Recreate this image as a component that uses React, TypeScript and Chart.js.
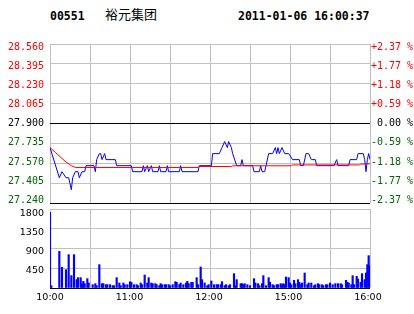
import React, { useEffect, useRef } from "react";
import { Chart, registerables } from "chart.js";

Chart.register(...registerables);

// ---------- data ----------
const stockCode = "00551";
const stockName = "裕元集团";
const quoteTime = "2011-01-06 16:00:37";
const prevClose = 27.9;

const priceTicks = [27.24, 27.405, 27.57, 27.735, 27.9, 28.065, 28.23, 28.395, 28.56];
const pctTickLabels = ["-2.37 %", "-1.77 %", "-1.18 %", "-0.59 %", " 0.00 %", "+0.59 %", "+1.18 %", "+1.77 %", "+2.37 %"];
const volumeTicks = [0, 450, 900, 1350, 1800];
const gridMinutes = [0, 30, 60, 90, 120, 150, 180, 210, 240];
const timeLabelMinutes = [0, 60, 120, 180, 240];
const timeLabels = ["10:00", "11:00", "12:00", "15:00", "16:00"];

// minutes since 10:00 (trading minutes, lunch break removed)
const priceMinutes = [
  0, 7, 9, 12, 14, 15, 16, 17, 19, 21, 22, 24, 26, 27, 33, 34, 35, 37, 38, 39, 41, 42, 49, 50,
  61, 62, 69, 70, 71, 73, 74, 76, 77, 81, 82, 83, 87, 88, 89, 97, 98, 99, 111, 112, 121, 122,
  127, 129, 131, 133, 134, 136, 137, 140, 143, 144, 145, 152, 153, 157, 158, 159, 161, 162,
  164, 167, 169, 170, 171, 172, 174, 176, 179, 182, 187, 188, 190, 192, 194, 196, 199, 200,
  213, 215, 216, 224, 225, 230, 231, 235, 236, 237, 238, 239, 240,
];
const priceValues = [
  27.7, 27.45, 27.5, 27.45, 27.45, 27.4, 27.35, 27.45, 27.5, 27.5, 27.45, 27.5, 27.5, 27.55, 27.55, 27.5, 27.6, 27.65, 27.65, 27.6, 27.65, 27.6, 27.6, 27.55,
  27.55, 27.5, 27.5, 27.55, 27.5, 27.55, 27.5, 27.55, 27.5, 27.5, 27.55, 27.5, 27.5, 27.55, 27.5, 27.5, 27.55, 27.5, 27.5, 27.55, 27.55, 27.65,
  27.65, 27.7, 27.75, 27.7, 27.75, 27.7, 27.65, 27.55, 27.55, 27.6, 27.55, 27.55, 27.5, 27.5, 27.55, 27.5, 27.5, 27.55,
  27.65, 27.65, 27.7, 27.65, 27.7, 27.65, 27.7, 27.65, 27.65, 27.6, 27.6, 27.55, 27.55, 27.65, 27.65, 27.6, 27.6, 27.55,
  27.55, 27.6, 27.55, 27.55, 27.6, 27.6, 27.65, 27.65, 27.6, 27.5, 27.6, 27.65, 27.6,
];

const avgMinutes = [0, 4, 8, 12, 16, 19, 111, 112, 136, 137, 181, 182, 232, 233, 240];
const avgValues = [27.7, 27.66, 27.62, 27.58, 27.55, 27.535, 27.535, 27.543, 27.543, 27.549, 27.549, 27.556, 27.556, 27.563, 27.565];

const volumeMinutes = [
  0, 1, 7, 9, 12, 14, 16, 18, 20, 21, 23, 24, 25, 26, 28, 29, 32, 34, 35, 37, 39, 40, 42, 43, 45, 47, 48,
  50, 52, 53, 55, 56, 58, 60, 61, 63, 65, 66, 68, 69, 71, 73, 74, 76, 77, 79, 80, 82, 83, 84, 86, 87, 89,
  90, 92, 94, 95, 97, 98, 100, 102, 103, 104, 106, 107, 110, 111, 113, 114, 116, 118, 119, 121, 123, 125,
  126, 128, 129, 131, 132, 134, 135, 138, 139, 140, 143, 144, 145, 146, 148, 150, 153, 154, 156, 157, 159,
  160, 162, 164, 165, 167, 168, 170, 171, 173, 174, 175, 176, 177, 179, 180, 181, 183, 184, 186, 187, 188,
  189, 191, 193, 194, 196, 198, 199, 201, 202, 204, 205, 207, 208, 210, 212, 214, 216, 218, 219, 222, 223,
  224, 226, 227, 228, 230, 231, 233, 234, 236, 237, 238, 239, 240,
];
const volumeValues = [
  1725, 50, 836, 471, 418, 760, 281, 760, 190, 236, 236, 99, 152, 99, 213, 114, 76, 99, 53, 532, 99, 99, 76, 76, 76, 53, 53,
  236, 114, 53, 114, 76, 76, 144, 129, 76, 76, 53, 114, 76, 296, 114, 236, 114, 99, 99, 76, 53, 99, 76, 76, 76, 76,
  53, 76, 144, 129, 76, 114, 76, 114, 152, 99, 129, 129, 236, 76, 479, 190, 114, 53, 76, 160, 76, 76,
  76, 76, 144, 53, 76, 53, 76, 327, 53, 190, 99, 99, 76, 99, 76, 53, 213, 114, 99, 53, 99,
  281, 53, 236, 129, 76, 53, 76, 76, 99, 76, 99, 76, 251, 236, 114, 76, 175, 99, 190, 129, 76,
  114, 342, 76, 114, 114, 53, 76, 99, 76, 76, 53, 76, 76, 114, 76, 99, 99, 99, 76, 175, 129,
  114, 76, 281, 76, 266, 205, 129, 327, 190, 342, 532, 737, 509,
];

// ---------- styles ----------
const RED = "#ff0000";
const GREEN = "#006600";
const BLUE = "#0000ff";
const GRID = "#c0c0c0";
const MONO = "'DejaVu Sans Mono', monospace";
const SANS = "'DejaVu Sans', sans-serif";

const priceColor = (v: number) => (v > prevClose + 1e-9 ? RED : v < prevClose - 1e-9 ? GREEN : "#000000");

export default function App() {
  const priceRef = useRef<HTMLCanvasElement | null>(null);
  const volRef = useRef<HTMLCanvasElement | null>(null);

  useEffect(() => {
    const setTicks = (vals: number[]) => (s: any) => {
      s.ticks = vals.map((v) => ({ value: v }));
    };
    const noGrid = { display: false, drawTicks: false };

    const priceChart = new Chart(priceRef.current as HTMLCanvasElement, {
      type: "line",
      data: {
        datasets: [
          {
            label: "avg",
            data: avgMinutes.map((m, i) => ({ x: m, y: avgValues[i] })),
            borderColor: RED,
            borderWidth: 1,
            pointRadius: 0,
            xAxisID: "x",
            yAxisID: "y",
            order: 0,
          },
          {
            label: "price",
            data: priceMinutes.map((m, i) => ({ x: m, y: priceValues[i] })),
            borderColor: BLUE,
            borderWidth: 1,
            pointRadius: 0,
            xAxisID: "x",
            yAxisID: "y",
            order: 1,
          },
        ],
      },
      options: {
        animation: false,
        responsive: false,
        devicePixelRatio: 1,
        events: [],
        layout: { padding: { top: 44, bottom: 111, left: 0, right: 0 } },
        plugins: { legend: { display: false }, tooltip: { enabled: false } },
        scales: {
          x: {
            type: "linear",
            min: 0,
            max: 240,
            afterBuildTicks: setTicks(gridMinutes),
            ticks: { display: false },
            grid: { color: GRID, drawTicks: false, lineWidth: 1 },
            border: { display: false },
            afterFit: (s: any) => {
              s.height = 0;
            },
          },
          y: {
            type: "linear",
            position: "left",
            min: 27.24,
            max: 28.56,
            afterBuildTicks: setTicks(priceTicks),
            ticks: { display: false },
            grid: {
              drawTicks: false,
              lineWidth: 1,
              color: (ctx: any) =>
                Math.abs(ctx.tick.value - prevClose) < 1e-6 || Math.abs(ctx.tick.value - 27.24) < 1e-6 ? "#000000" : GRID,
            },
            border: { display: false },
            afterFit: (s: any) => {
              s.width = 0;
            },
          },
          yL: {
            type: "linear",
            position: "left",
            min: 27.214,
            max: 28.592,
            afterBuildTicks: setTicks(priceTicks),
            ticks: {
              callback: (v: any) => Number(v).toFixed(3),
              color: (ctx: any) => priceColor(ctx.tick.value),
              font: { family: MONO, size: 10 },
              padding: 6,
            },
            grid: noGrid,
            border: { display: false },
            afterFit: (s: any) => {
              s.width = 50;
            },
          },
          yR: {
            type: "linear",
            position: "right",
            min: 27.214,
            max: 28.592,
            afterBuildTicks: setTicks(priceTicks),
            ticks: {
              callback: (v: any) => pctTickLabels[priceTicks.indexOf(Number(v))] ?? "",
              color: (ctx: any) => priceColor(ctx.tick.value),
              font: { family: MONO, size: 10 },
              padding: 1,
            },
            grid: noGrid,
            border: { display: false },
            afterFit: (s: any) => {
              s.width = 44;
            },
          },
        },
      } as any,
    });

    const volChart = new Chart(volRef.current as HTMLCanvasElement, {
      type: "bar",
      data: {
        datasets: [
          {
            label: "volume",
            data: volumeMinutes.map((m, i) => ({ x: m, y: volumeValues[i] })),
            backgroundColor: BLUE,
            borderWidth: 0,
            barThickness: 1.5,
            xAxisID: "x",
            yAxisID: "y",
          } as any,
        ],
      },
      options: {
        animation: false,
        responsive: false,
        devicePixelRatio: 1,
        events: [],
        layout: { padding: { top: 209, bottom: 0, left: 0, right: 44 } },
        plugins: { legend: { display: false }, tooltip: { enabled: false } },
        scales: {
          x: {
            type: "linear",
            min: 0,
            max: 240,
            offset: false,
            afterBuildTicks: setTicks(gridMinutes),
            ticks: { display: false },
            grid: { color: GRID, drawTicks: false, offset: false, lineWidth: 1 },
            border: { display: false },
            afterFit: (s: any) => {
              s.height = 0;
            },
          },
          xL: {
            type: "linear",
            position: "bottom",
            min: 0,
            max: 241.5,
            offset: false,
            afterBuildTicks: setTicks(timeLabelMinutes),
            ticks: {
              callback: (v: any) => timeLabels[timeLabelMinutes.indexOf(Number(v))] ?? "",
              autoSkip: false,
              maxRotation: 0,
              color: "#000000",
              font: { family: SANS, size: 9.5 },
              padding: 4,
            },
            grid: noGrid,
            border: { display: false },
            afterFit: (s: any) => {
              s.height = 26;
            },
          },
          y: {
            type: "linear",
            position: "left",
            min: 0,
            max: 1800,
            afterBuildTicks: setTicks(volumeTicks),
            ticks: { display: false },
            grid: {
              drawTicks: false,
              lineWidth: 1,
              color: (ctx: any) => (ctx.tick.value === 0 ? "#000000" : GRID),
            },
            border: { display: false },
            afterFit: (s: any) => {
              s.width = 0;
            },
          },
          yL: {
            type: "linear",
            position: "left",
            min: 23.8,
            max: 1902,
            afterBuildTicks: setTicks(volumeTicks.filter((v) => v > 0)),
            ticks: {
              callback: (v: any) => String(v),
              color: "#000000",
              font: { family: SANS, size: 9.5 },
              padding: 6,
            },
            grid: noGrid,
            border: { display: false },
            afterFit: (s: any) => {
              s.width = 50;
            },
          },
        },
      } as any,
    });

    return () => {
      priceChart.destroy();
      volChart.destroy();
    };
  }, []);

  const headBold: React.CSSProperties = {
    position: "absolute",
    top: 9,
    lineHeight: "14px",
    fontFamily: MONO,
    fontWeight: "bold",
    fontSize: "11.5px",
    color: "#000",
    whiteSpace: "nowrap",
  };

  return (
    <div style={{ position: "absolute", left: 0, top: 0, width: 414, height: 314, background: "#fff", overflow: "hidden" }}>
      <span style={{ ...headBold, left: 50 }}>{stockCode}</span>
      <span
        style={{
          position: "absolute",
          left: 105,
          top: 7,
          lineHeight: "14px",
          fontFamily: "'Noto Sans CJK SC', sans-serif",
          fontSize: "13px",
          color: "#000",
          whiteSpace: "nowrap",
        }}
      >
        {stockName}
      </span>
      <span style={{ ...headBold, left: 238 }}>{quoteTime}</span>
      <canvas ref={priceRef} width={414} height={314} style={{ position: "absolute", left: 0, top: 0 }} />
      <canvas ref={volRef} width={414} height={314} style={{ position: "absolute", left: 0, top: 0 }} />
    </div>
  );
}
